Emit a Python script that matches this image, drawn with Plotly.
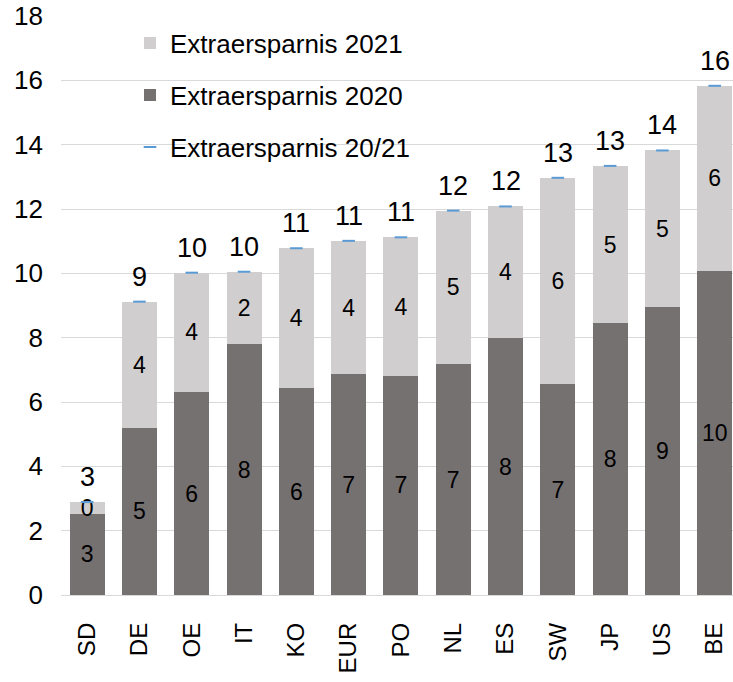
import plotly.graph_objects as go

categories = ["SD", "DE", "OE", "IT", "KO", "EUR", "PO", "NL", "ES", "SW", "JP", "US", "BE"]
ersparnis_2020 = [2.53, 5.20, 6.31, 7.79, 6.43, 6.86, 6.81, 7.17, 7.98, 6.55, 8.45, 8.95, 10.07]
ersparnis_2021 = [0.36, 3.92, 3.71, 2.26, 4.35, 4.15, 4.31, 4.78, 4.10, 6.42, 4.89, 4.87, 5.76]
ersparnis_2021_total = [2.89, 9.12, 10.02, 10.05, 10.78, 11.01, 11.12, 11.95, 12.08, 12.97, 13.34, 13.82, 15.83]

FONT = "Liberation Sans, Arial, sans-serif"
DARK = "#767171"
LIGHT = "#D0CECE"
BLUE = "#5B9BD5"

fig = go.Figure()

fig.add_trace(go.Bar(
    x=categories, y=ersparnis_2020, name="Extraersparnis 2020",
    marker=dict(color=DARK, line=dict(width=0)),
    texttemplate="%{y:.0f}", textposition="inside", insidetextanchor="middle",
    textangle=0,
    textfont=dict(family=FONT, size=23, color="black"),
    legend="legend2", hoverinfo="skip",
))
fig.add_trace(go.Bar(
    x=categories, y=ersparnis_2021, name="Extraersparnis 2021",
    marker=dict(color=LIGHT, line=dict(width=0)),
    texttemplate="%{y:.0f}", textposition="inside", insidetextanchor="middle",
    textangle=0,
    textfont=dict(family=FONT, size=23, color="black"),
    legend="legend", hoverinfo="skip",
))
fig.add_trace(go.Scatter(
    x=categories, y=ersparnis_2021_total, name="Extraersparnis 20/21",
    mode="markers",
    marker=dict(symbol="line-ew", size=9, color=BLUE, line=dict(color=BLUE, width=2)),
    legend="legend3", hoverinfo="skip", cliponaxis=False,
))

for c, t in zip(categories, ersparnis_2021_total):
    fig.add_annotation(
        x=c, y=t, xref="x", yref="y", text=f"{t:.0f}", showarrow=False,
        yanchor="bottom", yshift=8,
        font=dict(family=FONT, size=27, color="black"),
    )

H = 682
top, bottom = 16, 87
ph = H - top - bottom

def py(p):
    return (H - bottom - p) / ph

leg_common = dict(
    xref="paper", yref="paper", xanchor="left", yanchor="middle",
    bgcolor="rgba(0,0,0,0)", borderwidth=0,
    font=dict(family=FONT, size=26, color="black"),
)
lx = (130 - 61) / 672

fig.update_layout(
    width=733, height=H,
    margin=dict(l=61, r=0, t=top, b=bottom),
    paper_bgcolor="white", plot_bgcolor="white",
    barmode="stack", bargap=0.33,
    showlegend=True,
    legend=dict(x=lx, y=py(43), **leg_common),
    legend2=dict(x=lx, y=py(95), **leg_common),
    legend3=dict(x=lx, y=py(147), **leg_common),
    uniformtext=dict(minsize=23, mode="show"),
    font=dict(family=FONT, color="black"),
)
fig.update_xaxes(
    range=[-0.5, 12.35], tickangle=-90, showgrid=False, showline=False,
    ticks="", tickfont=dict(family=FONT, size=24, color="black"),
    ticklabelstandoff=22,
)
fig.update_yaxes(
    range=[0, 18], dtick=2, showgrid=True, gridcolor="#D9D9D9", gridwidth=1,
    zeroline=True, zerolinecolor="#D9D9D9", zerolinewidth=1, showline=False,
    ticks="", tickfont=dict(family=FONT, size=26, color="black"),
    ticklabelstandoff=17,
)

fig.write_html("out.html")
